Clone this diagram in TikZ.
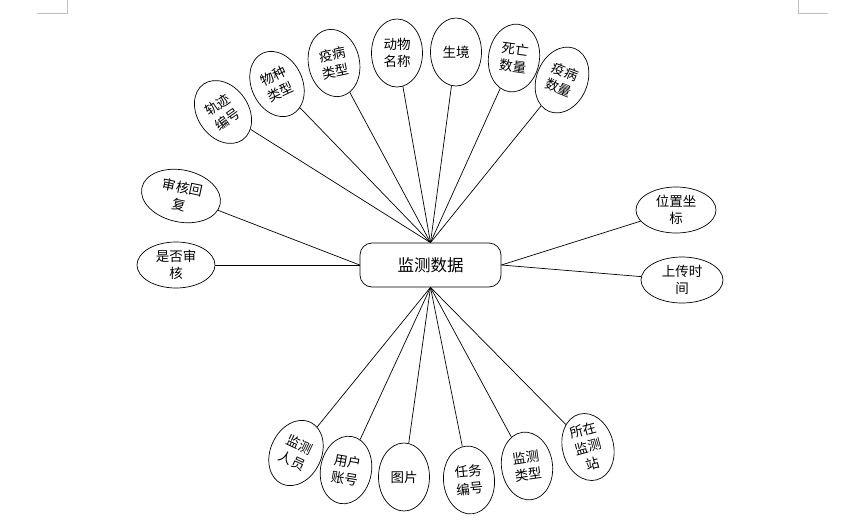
\documentclass[tikz,border=0pt]{standalone}
\usepackage{xcolor}
\usepackage{fontspec}
\newfontfamily\cjk{Noto Sans CJK SC}
\usepackage{tikz}
\usetikzlibrary{shapes,arrows.meta,positioning,fit,calc}
\definecolor{markgray}{RGB}{191,191,191}

\begin{document}
\begin{tikzpicture}[
    x=1pt, y=-1pt,
    attr/.style={draw, ellipse, line width=0.7pt, inner sep=0pt, minimum width=51pt, minimum height=68pt, align=center, font=\cjk\fontsize{13.5}{17.5}\selectfont},
    wideattr/.style={attr, minimum width=80pt, minimum height=46pt},
    entity/.style={draw, line width=0.7pt, rounded corners=12pt, minimum width=141pt, minimum height=44pt, font=\cjk\fontsize{16.5}{18}\selectfont},
    link/.style={line width=0.7pt},
]
\useasboundingbox (0,0) rectangle (855,520);
\draw[markgray, line width=0.6pt] (37,13) -- (67,13) -- (67,0);
\draw[markgray, line width=0.6pt] (798,0) -- (798,13) -- (828,13);

\node[entity] (data) at (430.5,265) {监测数据};

\node[attr, rotate=35]  (trackno)      at (223,112) {轨迹\\编号};
\node[attr, rotate=25]  (speciestype)  at (277,84)  {物种\\类型};
\node[attr, rotate=12]  (diseasetype)  at (334,63)  {疫病\\类型};
\node[attr]             (animalname)   at (397,53)  {动物\\名称};
\node[attr]             (habitat)      at (456,52)  {生境};
\node[attr, rotate=-8]  (deathcount)   at (514,58)  {死亡\\数量};
\node[attr, rotate=-22] (diseasecount) at (562,80)  {疫病\\数量};

\node[wideattr, minimum height=52pt, rotate=-12] (reviewreply) at (181,196) {审核回\\复};
\node[wideattr, minimum width=78pt] (reviewed)   at (176,265) {是否审\\核};
\node[wideattr] (position)   at (676,210) {位置坐\\标};
\node[wideattr, minimum width=82pt] (uploadtime) at (682,280) {上传时\\间};

\node[attr, rotate=-25] (monitor)     at (296,453) {监测\\人员};
\node[attr, rotate=-10] (account)     at (346,470) {用户\\账号};
\node[attr]             (picture)     at (404,477) {图片};
\node[attr, rotate=5]   (taskno)      at (469,480) {任务\\编号};
\node[attr, rotate=8]   (monitortype) at (527,466) {监测\\类型};
\node[attr, rotate=15]  (station)     at (588,447) {所在\\监测\\站};

\foreach \n in {trackno,speciestype,diseasetype,animalname,habitat,deathcount,diseasecount}
    \draw[link] (\n) -- (data.north);
\foreach \n in {monitor,account,picture,taskno,monitortype,station}
    \draw[link] (\n) -- (data.south);
\draw[link] (reviewreply) -- (data.west);
\draw[link] (reviewed) -- (data.west);
\draw[link] (data.east) -- (position);
\draw[link] (data.east) -- (uploadtime);
\end{tikzpicture}
\end{document}
